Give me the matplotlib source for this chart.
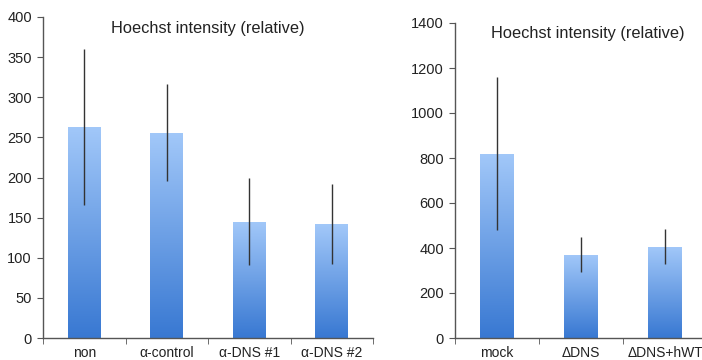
import numpy as np
import matplotlib
matplotlib.use("Agg")
import matplotlib.pyplot as plt
from matplotlib.colors import LinearSegmentedColormap

plt.rcParams['font.family'] = ['Liberation Sans', 'DejaVu Sans']

title = "Hoechst intensity (relative)"

left_labels = ["non", "α-control", "α-DNS #1", "α-DNS #2"]
left_values = [263, 256, 145, 142]
left_errors = [97, 60, 54, 50]

right_labels = ["mock", "ΔDNS", "ΔDNS+hWT"]
right_values = [820, 370, 405]
right_errors = [338, 78, 78]

W, H = 702, 360
fig = plt.figure(figsize=(W / 100, H / 100), dpi=100)

cmap = LinearSegmentedColormap.from_list("g", ["#3878d2", "#a2c8f9"])
grad = np.linspace(0, 1, 256).reshape(-1, 1)


def draw(ax, labels, values, errors, ymax, ystep):
    n = len(labels)
    x = np.arange(n)
    bars = ax.bar(x, values, width=0.4, color="none", edgecolor="none", zorder=2)
    for b in bars:
        x0, y0 = b.get_x(), b.get_y()
        w, h = b.get_width(), b.get_height()
        im = ax.imshow(grad, extent=[x0, x0 + w, y0, y0 + h], origin="lower",
                       cmap=cmap, aspect="auto", zorder=2)
        im.set_clip_path(b)
    ax.errorbar(x, values, yerr=errors, fmt="none", ecolor="#333333",
                elinewidth=1.0, capsize=0, zorder=3)
    ax.set_xlim(-0.5, n - 0.5)
    ax.set_ylim(0, ymax)
    ax.set_yticks(np.arange(0, ymax + 1, ystep))
    ax.set_xticks(x)
    ax.set_xticklabels(labels)
    ax.set_xticks(np.arange(-0.5, n, 1.0), minor=True)
    ax.tick_params(axis="x", which="major", length=0, pad=6, labelsize=10, colors="#222222")
    ax.tick_params(axis="x", which="minor", length=4, direction="out", color="#555555")
    ax.tick_params(axis="y", length=4, direction="out", color="#555555", labelsize=10.5,
                   labelcolor="#222222", pad=4)
    for s in ["top", "right"]:
        ax.spines[s].set_visible(False)
    for s in ["left", "bottom"]:
        ax.spines[s].set_color("#555555")
        ax.spines[s].set_linewidth(1.0)
    ax.set_title(title, fontsize=11.8, color="#222222", y=0.925)


ax1 = fig.add_axes([43 / W, 22 / H, 330 / W, 321 / H])
draw(ax1, left_labels, left_values, left_errors, 400, 50)

ax2 = fig.add_axes([455 / W, 22 / H, 252 / W, 315 / H])
draw(ax2, right_labels, right_values, right_errors, 1400, 200)
ax2.title.set_position((0.525, 0.925))

fig.savefig("out.png", dpi=100)
